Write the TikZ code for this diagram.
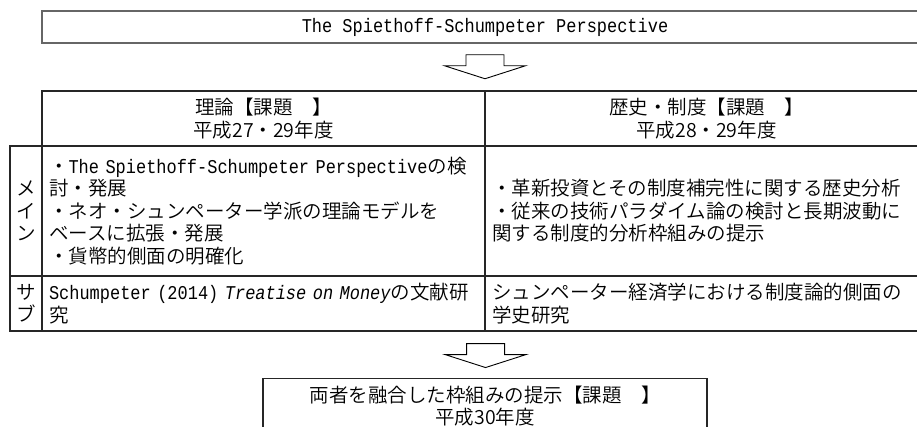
\documentclass[tikz,border=0pt]{standalone}
\usepackage{fontspec}
\setmainfont{Noto Sans CJK JP}[UprightFont={* DemiLight}]
\newfontfamily\monofnt[FakeStretch=0.87]{Liberation Mono}
\usetikzlibrary{positioning}
\def\mono#1{{\monofnt #1}}

\tikzset{
	cell/.style={draw=black!85, line width=1.1pt, inner xsep=7pt, inner ysep=0pt, minimum height=#1},
	wide/.style={text width=429pt},
	tag/.style={align=center, minimum width=32pt, inner xsep=0pt},
	downarr/.pic={\draw[line width=0.9pt] (-19,0) -- (19,0) -- (19,11) -- (40.5,11) -- (0,24) -- (-40.5,11) -- (-19,11) -- cycle;}
}

\begin{document}
\begin{tikzpicture}[x=1pt, y=-1pt, font=\fontsize{19.5pt}{22.5pt}\selectfont]
			%%%%% START %%%%%
			
			\useasboundingbox (0, 0) rectangle (917, 427);
			\fill[white] (0, 0) rectangle (917, 427);
			\clip (0, 0) rectangle (917, 427);
			
			\node[cell=32pt, draw=black!60, line width=1.5pt, minimum width=886pt] (title) at (485, 27) {\mono{The Spiethoff-Schumpeter Perspective}};
			\coordinate[below=11pt of title] (arrA);
			\pic at (arrA) {downarr};
			
			% header row
			\node[cell=55pt, wide, align=center] (hdL) at (263.5, 118.5) {理論【課題　】\\平成27・29年度};
			\node[cell=55pt, wide, align=center] (hdR) at (706.5, 118.5) {歴史・制度【課題　】\\平成28・29年度};
			
			% main row
			\node[cell=130pt, tag] (lbM) at (26, 211) {メ\\イ\\ン};
			\node[cell=130pt, wide, align=left] (mnL) at (263.5, 211) {\mbox{・\mono{The Spiethoff-Schumpeter Perspective}の検}\\討・発展\\・ネオ・シュンペーター学派の理論モデルを\\ベースに拡張・発展\\・貨幣的側面の明確化};
			\node[cell=130pt, wide, align=left] (mnR) at (706.5, 211) {・革新投資とその制度補完性に関する歴史分析\\・従来の技術パラダイム論の検討と長期波動に\\関する制度的分析枠組みの提示};
			
			% sub row
			\node[cell=55pt, tag] (lbS) at (26, 303.5) {サ\\ブ};
			\node[cell=55pt, wide, align=left] (sbL) at (263.5, 303.5) {\mbox{\mono{Schumpeter (2014) {\itshape Treatise on Money}}の文献研}\\究};
			\node[cell=55pt, wide, align=left] (sbR) at (706.5, 303.5) {シュンペーター経済学における制度論的側面の\\学史研究};
			
			\coordinate[below=12pt of sbL.south east] (arrB);
			\pic at (arrB) {downarr};
			
			\node[cell=55pt, text width=430pt, align=center] (fin) at (485, 406) {両者を融合した枠組みの提示【課題　】\\平成30年度};
			
			%%%%% END %%%%%
		\end{tikzpicture}
\end{document}
